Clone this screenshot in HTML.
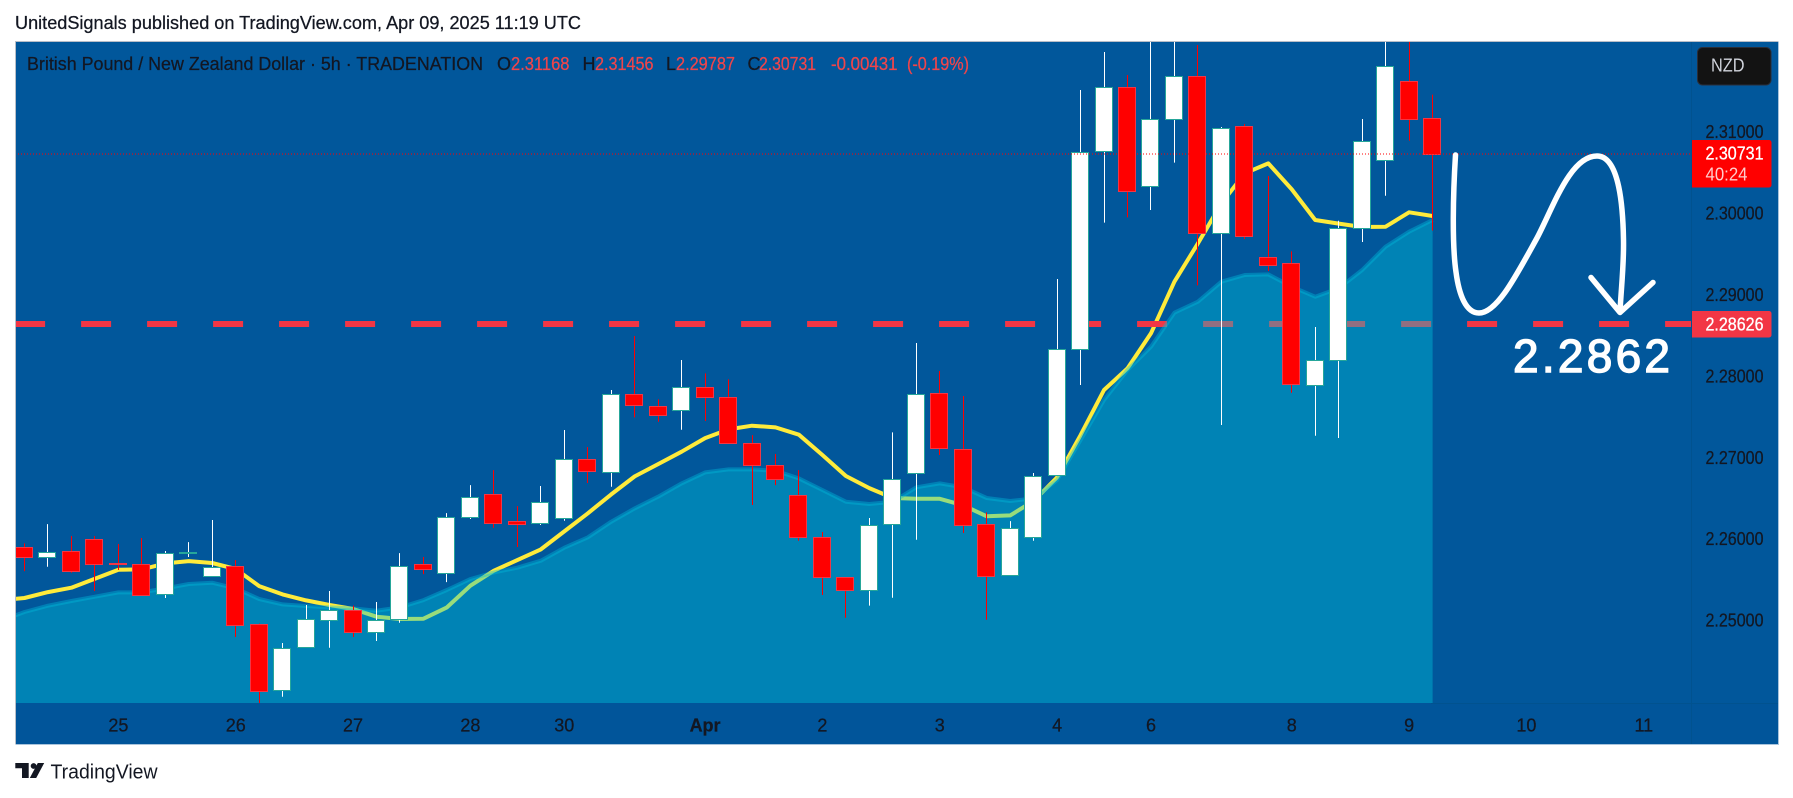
<!DOCTYPE html>
<html lang="en">
<head>
<meta charset="utf-8">
<title>GBP/NZD 5h chart</title>
<style>
html,body{margin:0;padding:0;background:#fff;width:1793px;height:798px;overflow:hidden}
svg{display:block}
text{font-family:"Liberation Sans",sans-serif}
</style>
</head>
<body>
<svg id="chart" xmlns="http://www.w3.org/2000/svg" width="1793" height="798" viewBox="0 0 1793 798">
  <defs><clipPath id="plot-clip"><rect x="15" y="42" width="1677" height="661"/></clipPath></defs>
  <rect x="0" y="0" width="1793" height="798" fill="#ffffff"/>
  <text x="15" y="29" font-size="18" fill="#131722" stroke="#131722" stroke-width="0.25" textLength="566" lengthAdjust="spacingAndGlyphs">UnitedSignals published on TradingView.com, Apr 09, 2025 11:19 UTC</text>
  <rect x="15" y="41" width="1763" height="703" fill="#01579b"/>
  <rect x="15" y="703" width="1763" height="41" fill="#01559a"/>
  <g id="lower-layer" clip-path="url(#plot-clip)"></g>
  <g id="candle-layer" clip-path="url(#plot-clip)"></g>
  <g id="upper-layer" clip-path="url(#plot-clip)"></g>

  <path d="M1455.5 155 C1453 195,1452 245,1456 272 C1459 295,1466 313,1479 313 C1497 313,1516 276,1537 238 C1553 208,1570 156,1597 156 C1620 156,1623 210,1623.5 240 C1624 265,1621 290,1620 312" fill="none" stroke="#ffffff" stroke-width="5.5" stroke-linecap="round" stroke-linejoin="round"/>
  <path d="M1591 277.5 L1620 312.5 L1653 282.5" fill="none" stroke="#ffffff" stroke-width="5.5" stroke-linecap="round" stroke-linejoin="round"/>
  <text x="1513" y="372" font-size="46" fill="#ffffff" stroke="#ffffff" stroke-width="1.4" textLength="157" lengthAdjust="spacing">2.2862</text>

  <g font-size="18" stroke-width="0.25">
    <text x="27" y="70" fill="#131722" stroke="#131722" textLength="456" lengthAdjust="spacingAndGlyphs">British Pound / New Zealand Dollar · 5h · TRADENATION</text>
    <text x="497" y="70" fill="#131722" stroke="#131722">O</text>
    <text x="511" y="70" fill="#f0454a" stroke="#f0454a" textLength="58.5" lengthAdjust="spacingAndGlyphs">2.31168</text>
    <text x="582.5" y="70" fill="#131722" stroke="#131722">H</text>
    <text x="595" y="70" fill="#f0454a" stroke="#f0454a" textLength="58.5" lengthAdjust="spacingAndGlyphs">2.31456</text>
    <text x="666" y="70" fill="#131722" stroke="#131722">L</text>
    <text x="676" y="70" fill="#f0454a" stroke="#f0454a" textLength="59" lengthAdjust="spacingAndGlyphs">2.29787</text>
    <text x="747.5" y="70" fill="#131722" stroke="#131722">C</text>
    <text x="759" y="70" fill="#f0454a" stroke="#f0454a" textLength="57" lengthAdjust="spacingAndGlyphs">2.30731</text>
    <text x="831" y="70" fill="#f0454a" stroke="#f0454a" textLength="66.5" lengthAdjust="spacingAndGlyphs">-0.00431</text>
    <text x="907" y="70" fill="#f0454a" stroke="#f0454a" textLength="62" lengthAdjust="spacingAndGlyphs">(-0.19%)</text>
  </g>

  <line x1="1691.5" y1="42" x2="1691.5" y2="744" stroke="#01528f" stroke-width="1"/>
  <line x1="1431" y1="703.5" x2="1778" y2="703.5" stroke="#01528f" stroke-width="1"/>
  <g id="price-axis"></g>
  <g id="time-axis"></g>

  <g>
    <rect x="1697.5" y="47.5" width="73.5" height="37.5" rx="5" fill="#131313" stroke="#2a2e39"/>
    <text x="1711" y="71.5" font-size="18" fill="#d1d4dc" textLength="33.5" lengthAdjust="spacingAndGlyphs">NZD</text>
  </g>

  <path d="M1692 140 H1769 a2.5 2.5 0 0 1 2.5 2.5 V185 a2.5 2.5 0 0 1 -2.5 2.5 H1692 Z" fill="#ff0000"/>
  <text id="last-price-text" x="1705.5" y="159.5" font-size="18" fill="#ffffff" stroke="#ffffff" stroke-width="0.3" textLength="58" lengthAdjust="spacingAndGlyphs"></text>
  <text x="1705.5" y="180.5" font-size="18" fill="#ffcccc" textLength="42" lengthAdjust="spacingAndGlyphs">40:24</text>
  <path d="M1692 311 H1769 a2.5 2.5 0 0 1 2.5 2.5 V335 a2.5 2.5 0 0 1 -2.5 2.5 H1692 Z" fill="#f23645"/>
  <text id="target-price-text" x="1705.5" y="330.5" font-size="18" fill="#ffffff" stroke="#ffffff" stroke-width="0.3" textLength="58" lengthAdjust="spacingAndGlyphs"></text>

  <path d="M15.5 744 V41.5 H1778" fill="none" stroke="#b9bec7" stroke-width="1"/>
  <path d="M15.5 744.5 H1778.5 V41.5" fill="none" stroke="#a9c4dc" stroke-width="1"/>

  <g>
    <path d="M15.3 763 H28.7 V778 H22 V768.3 H15.3 Z" fill="#131722"/>
    <circle cx="33.6" cy="766" r="2.9" fill="#131722"/>
    <path d="M37.8 763 H44.2 L36.2 778 H29.8 Z" fill="#131722"/>
    <text x="50.5" y="778.5" font-size="20" fill="#131722" textLength="107" lengthAdjust="spacingAndGlyphs">TradingView</text>
  </g>
</svg>

<script>
const opens = [2.25896,2.25773,2.25855,2.25994,2.25699,2.25687,2.25319,2.25830,2.25540,2.25663,2.24959,2.24140,2.24668,2.25000,2.25131,2.24852,2.25012,2.25687,2.25585,2.26264,2.26555,2.26215,2.26191,2.26252,2.26985,2.26817,2.27775,2.27627,2.27578,2.27869,2.27738,2.27173,2.26903,2.26534,2.26019,2.25528,2.25368,2.26178,2.26805,2.27787,2.27099,2.26178,2.25552,2.26019,2.26780,2.28328,2.30759,2.31545,2.30329,2.31152,2.31688,2.29752,2.31066,2.29457,2.29384,2.27886,2.28192,2.29821,2.30648,2.31618,2.31168];
const highs = [2.25945,2.26182,2.26035,2.26035,2.25937,2.26011,2.25851,2.25961,2.26232,2.25740,2.24959,2.24721,2.25188,2.25360,2.25180,2.25225,2.25826,2.25777,2.26317,2.26661,2.26845,2.26403,2.26649,2.27337,2.27128,2.27828,2.28491,2.27713,2.28196,2.28032,2.27959,2.27275,2.27042,2.26845,2.26084,2.25528,2.26256,2.27308,2.28405,2.28061,2.27754,2.26326,2.26219,2.26809,2.29191,2.31512,2.31978,2.31696,2.32400,2.32500,2.32064,2.31058,2.31094,2.30456,2.29531,2.28602,2.29907,2.31156,2.32600,2.32300,2.31456];
const lows = [2.25605,2.25658,2.25585,2.25360,2.25618,2.25307,2.25274,2.25777,2.25540,2.24795,2.23985,2.24062,2.24668,2.24664,2.24795,2.24746,2.24971,2.25568,2.25470,2.26244,2.26137,2.25900,2.26170,2.26223,2.26686,2.26641,2.27492,2.27439,2.27341,2.27447,2.27173,2.26416,2.26661,2.25978,2.25311,2.25032,2.25180,2.25278,2.25990,2.27030,2.26072,2.25008,2.25552,2.25978,2.26780,2.27890,2.29883,2.29948,2.30038,2.30620,2.29113,2.27398,2.29682,2.29289,2.27795,2.27267,2.27239,2.29646,2.30214,2.30890,2.29787];
const closes = [2.25773,2.25843,2.25601,2.25695,2.25695,2.25307,2.25830,2.25834,2.25658,2.24946,2.24128,2.24664,2.25020,2.25131,2.24852,2.25008,2.25671,2.25634,2.26264,2.26518,2.26199,2.26186,2.26457,2.26985,2.26829,2.27775,2.27640,2.27525,2.27869,2.27738,2.27173,2.26903,2.26731,2.26019,2.25528,2.25368,2.26174,2.26739,2.27775,2.27112,2.26166,2.25540,2.26137,2.26776,2.28328,2.30755,2.31545,2.30276,2.31152,2.31688,2.29752,2.31041,2.29723,2.29367,2.27898,2.28201,2.29821,2.30890,2.31802,2.31160,2.30731];
/* moving averages start one bar before the first visible candle */
const fastAverage = [2.25249,2.25274,2.25347,2.25401,2.25511,2.25622,2.25626,2.25699,2.25728,2.25704,2.25630,2.25421,2.25319,2.25245,2.25188,2.25139,2.25045,2.25016,2.25020,2.25159,2.25425,2.25609,2.25740,2.25871,2.26092,2.26313,2.26547,2.26768,2.26919,2.27071,2.27238,2.27345,2.27390,2.27369,2.27279,2.27030,2.26772,2.26624,2.26502,2.26493,2.26493,2.26412,2.26277,2.26289,2.26465,2.26755,2.27275,2.27828,2.28094,2.28524,2.29158,2.29629,2.30120,2.30489,2.30611,2.30292,2.29916,2.29871,2.29830,2.29834,2.30010,2.29965];
const slowAverage = [2.24995,2.25102,2.25180,2.25237,2.25290,2.25343,2.25343,2.25392,2.25446,2.25462,2.25392,2.25262,2.25196,2.25176,2.25159,2.25147,2.25118,2.25159,2.25249,2.25372,2.25507,2.25589,2.25646,2.25732,2.25892,2.26019,2.26211,2.26375,2.26518,2.26682,2.26817,2.26854,2.26854,2.26837,2.26743,2.26600,2.26457,2.26428,2.26457,2.26633,2.26682,2.26633,2.26502,2.26465,2.26498,2.26723,2.27214,2.27705,2.28074,2.28360,2.28778,2.28913,2.29158,2.29240,2.29248,2.29097,2.28974,2.29077,2.29302,2.29588,2.29772,2.29916];
const priceTicks = [2.31,2.30,2.29,2.28,2.27,2.26,2.25];
const timeTickBars = [4,9,14,19,23,29,34,39,44,48,54,59,64,69];
const timeTickLabels = ['25','26','27','28','30','Apr','2','3','4','6','8','9','10','11'];
const targetLevel = 2.28626;

const NS = 'http://www.w3.org/2000/svg';
const xScale = function (bar) { return 24.5 + 23.468 * bar; };
const yScale = function (price) { return 131.7 + (2.31 - price) * 8144; };
const snap = function (v) { return Math.round(v) + 0.5; };

function make(tag, parent, attrs) {
  const el = document.createElementNS(NS, tag);
  Object.keys(attrs).forEach(function (k) { el.setAttribute(k, attrs[k]); });
  parent.appendChild(el);
  return el;
}

const lower = document.getElementById('lower-layer');
const candleLayer = document.getElementById('candle-layer');
const upper = document.getElementById('upper-layer');
const priceAxis = document.getElementById('price-axis');
const timeAxis = document.getElementById('time-axis');

function linePoints(values) {
  return values.map(function (v, i) { return xScale(i - 1).toFixed(1) + ',' + yScale(v).toFixed(1); }).join(' ');
}

/* fast moving average sits beneath the translucent area */
const fastLine = make('polyline', lower, { points: linePoints(fastAverage), fill: 'none', stroke: '#ffeb3b', 'stroke-width': 4, 'stroke-linejoin': 'round' });



const targetLine = make('line', lower, { x1: 15.1, x2: 1691, y1: yScale(targetLevel) - 1, y2: yScale(targetLevel) - 1, stroke: '#f23645', 'stroke-width': 6, 'stroke-dasharray': '30 36' });



const lastX = xScale(slowAverage.length - 2);
const areaPoints = linePoints(slowAverage) + ' ' + lastX.toFixed(1) + ',703 ' + xScale(-1).toFixed(1) + ',703';
const slowArea = make('polygon', lower, { points: areaPoints, fill: 'rgba(0,197,220,0.4)' });



const slowLine = make('polyline', lower, { points: linePoints(slowAverage), fill: 'none', stroke: 'rgba(0,188,220,0.4)', 'stroke-width': 4, 'stroke-linejoin': 'round' });



/* candles */
closes.forEach(function (close, i) {
  const open = opens[i];
  const up = close >= open;
  const cx = Math.floor(xScale(i));
  const g = make('g', candleLayer, {});
  
  
  const wick = make('line', g, { x1: cx + 0.5, x2: cx + 0.5, y1: yScale(highs[i]), y2: yScale(lows[i]), stroke: up ? '#ffffff' : '#ff0000', 'stroke-width': 1 });
  
  
  const top = snap(yScale(Math.max(open, close)));
  const bottom = snap(yScale(Math.min(open, close)));
  const body = make('rect', g, { x: cx - 8.5, y: top, width: 17, height: Math.max(bottom - top, 1), fill: up ? '#ffffff' : '#ff0000', stroke: up ? '#26a69a' : '#f23645', 'stroke-width': 1 });
  
  
});

/* last price dotted line sits over the candles */
const lastClose = closes[closes.length - 1];
const lastLine = make('line', upper, { x1: 15, x2: 1692, y1: snap(yScale(lastClose)) - 0.5, y2: snap(yScale(lastClose)) - 0.5, stroke: '#ff0000', 'stroke-width': 1, 'stroke-dasharray': '1 2' });



/* axes */
priceTicks.forEach(function (p) {
  const t = make('text', priceAxis, { x: 1705.5, y: yScale(p) + 6.3, 'font-size': 18, fill: '#131722', stroke: '#131722', 'stroke-width': 0.25, textLength: 58, lengthAdjust: 'spacingAndGlyphs' });
  
  
  t.textContent = p.toFixed(5);
});

timeTickLabels.forEach(function (label, i) {
  const t = make('text', timeAxis, { x: xScale(timeTickBars[i]), y: 731.3, 'font-size': 18, fill: '#131722', stroke: '#131722', 'stroke-width': 0.25, 'text-anchor': 'middle', 'font-weight': label === 'Apr' ? 'bold' : 'normal' });
  
  
  t.textContent = label;
});

document.getElementById('last-price-text').textContent = lastClose.toFixed(5);
document.getElementById('target-price-text').textContent = targetLevel.toFixed(5);
</script>
</body>
</html>
